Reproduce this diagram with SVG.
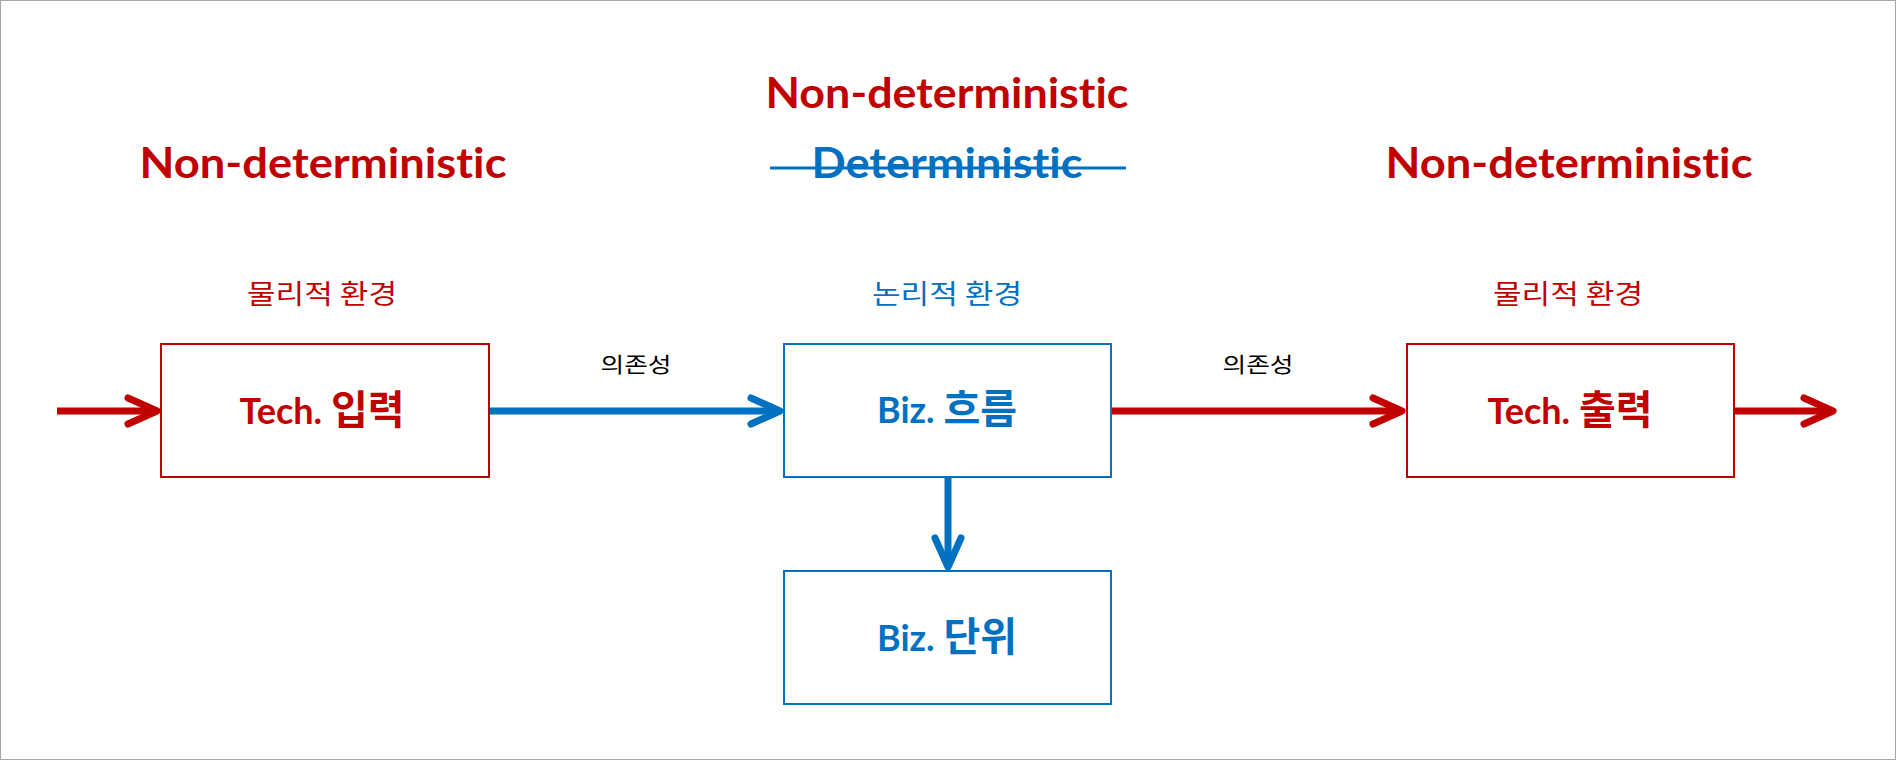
<svg xmlns="http://www.w3.org/2000/svg" width="1896" height="760" viewBox="0 0 1896 760">
<style>
text{font-variant-ligatures:none;font-feature-settings:"liga" 0,"clig" 0}
.frame{fill:#FFFFFF;stroke:#A6A6A6;stroke-width:1}
.box-red{fill:#FFFFFF;stroke:#C00000;stroke-width:2}
.box-blue{fill:#FFFFFF;stroke:#0070C0;stroke-width:2}
.head{font-family:Lato,"Noto Sans CJK KR",sans-serif;font-weight:bold;font-size:42px;text-anchor:middle}
.env{font-family:"Noto Sans CJK KR",sans-serif;font-size:27px;text-anchor:middle}
.lbl{font-family:"Noto Sans CJK KR",sans-serif;font-size:21px;text-anchor:middle;fill:#000000}
.node{font-family:Lato,"Noto Sans CJK KR",sans-serif;font-weight:bold;font-size:36px;text-anchor:middle}
.ko{font-family:"Noto Sans CJK KR",sans-serif;font-size:40px;font-weight:bold}
.red{fill:#C00000}
.blue{fill:#0070C0}
.ln-red{stroke:#C00000;stroke-width:7;fill:none}
.ln-blue{stroke:#0070C0;stroke-width:7;fill:none}
</style>
<defs>
<marker id="ar-red" markerUnits="userSpaceOnUse" viewBox="-40 -20 48 40" refX="0" refY="0" markerWidth="48" markerHeight="40" orient="auto">
<path d="M-29,-13 L0,0 L-29,13" fill="none" stroke="#C00000" stroke-width="7" stroke-linecap="round" stroke-linejoin="round"/>
</marker>
<marker id="ar-blue" markerUnits="userSpaceOnUse" viewBox="-40 -20 48 40" refX="0" refY="0" markerWidth="48" markerHeight="40" orient="auto">
<path d="M-29,-13 L0,0 L-29,13" fill="none" stroke="#0070C0" stroke-width="7" stroke-linecap="round" stroke-linejoin="round"/>
</marker>
</defs>
<rect class="frame" x="0.5" y="0.5" width="1895" height="759"/>

<g id="headings">
<text class="head red" x="323" y="178" textLength="367" lengthAdjust="spacingAndGlyphs">Non-deterministic</text>
<text class="head red" x="947" y="108" textLength="363" lengthAdjust="spacingAndGlyphs">Non-deterministic</text>
<text class="head blue" x="947" y="178" textLength="271" lengthAdjust="spacingAndGlyphs">Deterministic</text>
<line x1="770" y1="168" x2="1126" y2="168" stroke="#0070C0" stroke-width="3"/>
<text class="head red" x="1569" y="178" textLength="367" lengthAdjust="spacingAndGlyphs">Non-deterministic</text>
</g>

<g id="env-labels">
<text class="env red" x="322" y="304" textLength="150" lengthAdjust="spacingAndGlyphs">물리적 환경</text>
<text class="env blue" x="947" y="304" textLength="150" lengthAdjust="spacingAndGlyphs">논리적 환경</text>
<text class="env red" x="1568" y="304" textLength="150" lengthAdjust="spacingAndGlyphs">물리적 환경</text>
</g>

<g id="connectors">
<line class="ln-red" x1="57" y1="411" x2="157" y2="411" marker-end="url(#ar-red)"/>
<line class="ln-blue" x1="489" y1="411" x2="780" y2="411" marker-end="url(#ar-blue)"/>
<line class="ln-red" x1="1111" y1="411" x2="1402" y2="411" marker-end="url(#ar-red)"/>
<line class="ln-red" x1="1735" y1="411" x2="1833" y2="411" marker-end="url(#ar-red)"/>
<line class="ln-blue" x1="948" y1="477" x2="948" y2="567" marker-end="url(#ar-blue)"/>
<text class="lbl" x="636" y="372" textLength="71" lengthAdjust="spacingAndGlyphs">의존성</text>
<text class="lbl" x="1258" y="372" textLength="71" lengthAdjust="spacingAndGlyphs">의존성</text>
</g>

<g id="tech-input">
<rect class="box-red" x="161" y="344" width="328" height="133"/>
<text class="node red" x="322" y="424">Tech. <tspan class="ko">입력</tspan></text>
</g>

<g id="biz-flow">
<rect class="box-blue" x="784" y="344" width="327" height="133"/>
<text class="node blue" x="947" y="423">Biz. <tspan class="ko">흐름</tspan></text>
</g>

<g id="tech-output">
<rect class="box-red" x="1407" y="344" width="327" height="133"/>
<text class="node red" x="1570" y="424">Tech. <tspan class="ko">출력</tspan></text>
</g>

<g id="biz-unit">
<rect class="box-blue" x="784" y="571" width="327" height="133"/>
<text class="node blue" x="947" y="651">Biz. <tspan class="ko">단위</tspan></text>
</g>
</svg>
